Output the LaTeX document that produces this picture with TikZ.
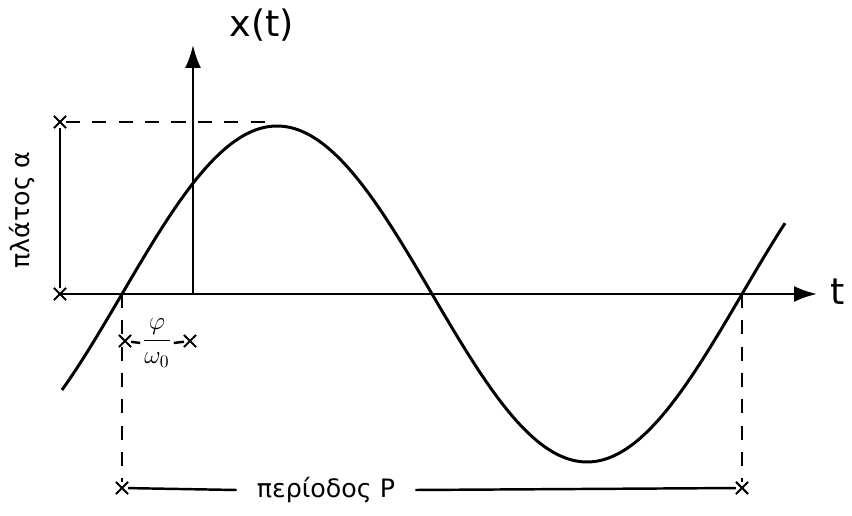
\documentclass[tikz,border=0pt]{standalone}
\usepackage{fontspec}
\setmainfont{DejaVu Sans}
\usepackage{amsmath}
\usetikzlibrary{arrows.meta,shapes.misc}

\begin{document}
\begin{tikzpicture}[
			x=0.02cm,
			y=-0.02cm,
			axisline/.style={
				-{Latex[length=0.46cm,width=0.32cm]},
				line width=1.4pt
			},
			wave/.style={
				line width=1.7pt,
				line join=round
			},
			guide/.style={
				line width=1.2pt,
				dash pattern=on 8pt off 7pt
			},
			measure/.style={
				line width=1.4pt
			},
			tickmark/.style={
				cross out,
				draw,
				line width=1.2pt,
				minimum size=0.2cm,
				inner sep=0pt
			},
			label/.style={
				font=\Large,
				inner sep=2pt
			}
			]
			\useasboundingbox (0,0) rectangle (852,516);
			
			% Axes
			\coordinate (origin) at (193,294);
			\coordinate (tstart) at (58,294);
			\coordinate (ttip) at (817,294);
			\coordinate (xtip) at (193,45);
			
			\node[label,font=\huge] (tlabel) at (838,292) {t};
			\node[label,font=\huge] (xlabel) at (262,25) {x(t)};
			
			\draw[axisline]
			(tstart) --
			(ttip);
			
			\draw[axisline]
			(origin) --
			(xtip);
			
			% Amplitude
			\node[tickmark] (amptop) at (60,122) {};
			\node[tickmark] (ampbot) at (60,294) {};
			\coordinate (peak) at (272,122);
			
			\node[label,rotate=90] (amplabel) at (22,210) {πλάτος α};
			
			\draw[guide]
			(amptop) --
			(peak);
			
			\draw[measure]
			(amptop) --
			(ampbot);
			
			% Signal
			\draw[wave]
			plot[domain=62:785,samples=120,smooth]
			(\x,{294-168*sin(0.5806*(\x-122))});
			
			% Zero crossings
			\coordinate (zeroa) at (122,294);
			\coordinate (zerob) at (742,294);
			
			% Phase shift
			\node[tickmark] (phaseleft) at (125,341) {};
			\node[tickmark] (phaseright) at (190,341) {};
			\node[font=\Large,inner sep=1pt] (phase) at (157,343) {$\dfrac{\varphi}{\omega_0}$};
			
			\draw[measure]
			(phaseleft) --
			(phase.west);
			
			\draw[measure]
			(phase.east) --
			(phaseright);
			
			% Period
			\node[tickmark] (perleft) at (122,488) {};
			\node[tickmark] (perright) at (742,488) {};
			\node[label,inner xsep=0.4cm] (period) at (326,490) {περίοδος P};
			
			\draw[guide]
			(zeroa) --
			(perleft);
			
			\draw[guide]
			(zerob) --
			(perright);
			
			\draw[measure]
			(perleft) --
			(period.west);
			
			\draw[measure]
			(period.east) --
			(perright);
			
		\end{tikzpicture}
\end{document}
